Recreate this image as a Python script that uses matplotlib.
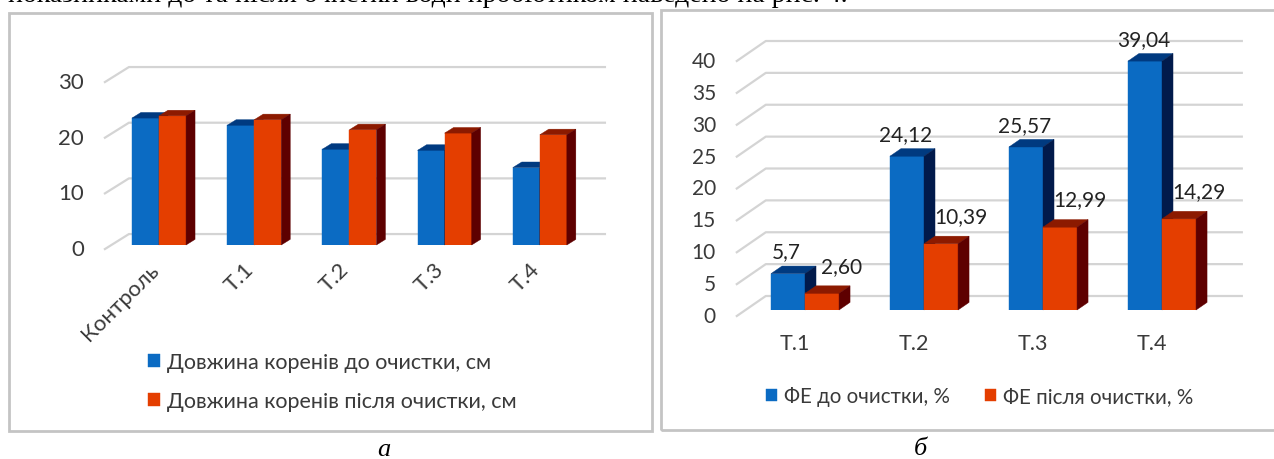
import matplotlib
matplotlib.use("Agg")
import matplotlib.pyplot as plt
from matplotlib.patches import Polygon, Rectangle
from matplotlib.lines import Line2D

W, H = 1274, 460

plt.rcParams["font.family"] = ["Lato", "DejaVu Sans"]

# --- data -------------------------------------------------------------
root_cats = ["Контроль", "Т.1", "Т.2", "Т.3", "Т.4"]
root_before = [22.8, 21.5, 17.2, 17.0, 13.9]
root_after = [23.2, 22.5, 20.7, 20.1, 19.8]
root_labels = ["Довжина коренів до очистки, см", "Довжина коренів після очистки, см"]

fe_cats = ["Т.1", "Т.2", "Т.3", "Т.4"]
fe_before = [5.7, 24.12, 25.57, 39.04]
fe_after = [2.60, 10.39, 12.99, 14.29]
fe_before_txt = ["5,7", "24,12", "25,57", "39,04"]
fe_after_txt = ["2,60", "10,39", "12,99", "14,29"]
fe_labels = ["ФЕ до очистки, %", "ФЕ після очистки, %"]

# face colours: front, top, side
BLUE = ("#0b6bc3", "#003a80", "#011a4b")
ORANGE = ("#e43e00", "#8c1a00", "#5e0000")
GRID = "#d4d4d4"
TXT = "#3a3a3a"


def px_axes(fig, x0, y0, x1, y1):
    # axes box given in pixels from the top-left corner
    return fig.add_axes([x0 / W, 1 - y1 / H, (x1 - x0) / W, (y1 - y0) / H])


def draw_3d_bars(ax, cats, series, colors, ymax, step, depth_px, f0, bar_frac, width, tick_fs):
    ax.set_xlim(-0.5, len(cats) - 0.5)
    ax.set_ylim(0, ymax)
    ax.axis("off")

    # convert the oblique depth offset from pixels to data units
    bbox = ax.get_window_extent()
    ux = bbox.width / len(cats)
    uy = bbox.height / ymax
    ddx, ddy = depth_px[0] / ux, depth_px[1] / uy
    xl, xr = -0.5, len(cats) - 0.5

    # value gridlines: left wall diagonal + back wall line, labels at the front edge
    v = 0
    while v <= ymax + 1e-9:
        xs = [xl - f0 * ddx, xl + (1 - f0) * ddx, xr + (1 - f0) * ddx]
        ys = [v - f0 * ddy, v + (1 - f0) * ddy, v + (1 - f0) * ddy]
        ax.add_line(Line2D(xs, ys, color=GRID, lw=1.6, clip_on=False, zorder=1))
        ax.annotate(f"{v:g}", (xs[0], ys[0]), xytext=(-15, 0), textcoords="offset points",
                    ha="right", va="center", fontsize=tick_fs, color=TXT,
                    annotation_clip=False)
        v += step

    bx, by = bar_frac * ddx, bar_frac * ddy
    n = len(series)
    handles = []
    for k, (vals, col) in enumerate(zip(series, colors)):
        front, top, side = col
        xs = [i + (k - n / 2) * width for i in range(len(cats))]
        bars = ax.bar(xs, vals, width=width, align="edge", color=front,
                      edgecolor=front, lw=0.3, zorder=3 + k)
        handles.append(bars)
        for x0, val in zip(xs, vals):
            x1 = x0 + width
            ax.add_patch(Polygon([(x0, val), (x1, val), (x1 + bx, val + by), (x0 + bx, val + by)],
                                 closed=True, fc=top, ec=top, lw=0.3, zorder=3 + k, clip_on=False))
            ax.add_patch(Polygon([(x1, 0), (x1, val), (x1 + bx, val + by), (x1 + bx, by)],
                                 closed=True, fc=side, ec=side, lw=0.3, zorder=3 + k, clip_on=False))
    return handles, (ddx, ddy)


fig = plt.figure(figsize=(W / 100, H / 100), dpi=100)

# page text above the figures, its upper part runs off the top edge
fig.text(8 / W, 1 - 2.5 / H,
         "показниками до та після очистки води пробіотиком наведено на рис. 4.",
         family="Liberation Serif", fontsize=20, color="black", va="baseline", ha="left")

# panel frames
fig.patches.append(Rectangle((9 / W, 1 - 432 / H), 643 / W, 418 / H, transform=fig.transFigure,
                             fill=False, ec="#c4c4c4", lw=2))
fig.patches.append(Rectangle((661 / W, 1 - 431 / H), 640 / W, 420 / H, transform=fig.transFigure,
                             fill=False, ec="#c4c4c4", lw=2))

# --- left: root length ------------------------------------------------
ax1 = px_axes(fig, 111.4, 79, 587.4, 246)
h1, (d1x, d1y) = draw_3d_bars(ax1, root_cats, [root_before, root_after], [BLUE, ORANGE],
                              30, 10, (24, 15), 0.27, 0.375, 0.284, 16)
for i, c in enumerate(root_cats):
    ax1.annotate(c, (i - 0.27 * d1x, 0), xytext=(-3, -10), textcoords="offset points",
                 rotation=45, rotation_mode="anchor", ha="right", va="top",
                 fontsize=16, color=TXT, annotation_clip=False)
fig.legend(h1, root_labels, loc="center left", bbox_to_anchor=(148 / W, 1 - 382.5 / H),
           frameon=False, fontsize=15.5, labelcolor=TXT, handlelength=0.56, handleheight=0.56,
           handletextpad=0.3, labelspacing=0.88, borderpad=0, borderaxespad=0)

# --- right: FE --------------------------------------------------------
ax2 = px_axes(fig, 745.5, 56, 1221.5, 311)
h2, (d2x, d2y) = draw_3d_bars(ax2, fe_cats, [fe_before, fe_after], [BLUE, ORANGE],
                              40, 5, (29, 20), 0.3, 0.38, 0.286, 15)
for i, c in enumerate(fe_cats):
    ax2.annotate(c, (i - 0.3 * d2x, 0), xytext=(-1, -24), textcoords="offset points",
                 ha="center", va="center", fontsize=15.5, color=TXT, annotation_clip=False)
for i, (vb, va_, tb, ta) in enumerate(zip(fe_before, fe_after, fe_before_txt, fe_after_txt)):
    ax2.annotate(tb, (i - 0.143, vb), xytext=(-1, 16), textcoords="offset points",
                 ha="center", va="center", fontsize=15, color="#222222", annotation_clip=False)
    ax2.annotate(ta, (i + 0.143, va_), xytext=(14, 20), textcoords="offset points",
                 ha="center", va="center", fontsize=15, color="#222222", annotation_clip=False)
fig.legend(h2, fe_labels, loc="center left", bbox_to_anchor=(766 / W, 1 - 397 / H), ncol=2,
           frameon=False, fontsize=14.8, labelcolor=TXT, handlelength=0.54, handleheight=0.54,
           handletextpad=0.34, columnspacing=1.7, borderpad=0, borderaxespad=0)

# captions under the panels
fig.text(384 / W, 1 - 450 / H, "а", family="Liberation Serif", style="italic",
         fontsize=19, ha="center", va="center")
fig.text(920 / W, 1 - 449 / H, "б", family="Liberation Serif", style="italic",
         fontsize=19, ha="center", va="center")

fig.savefig("out.png", dpi=100, facecolor="white")
